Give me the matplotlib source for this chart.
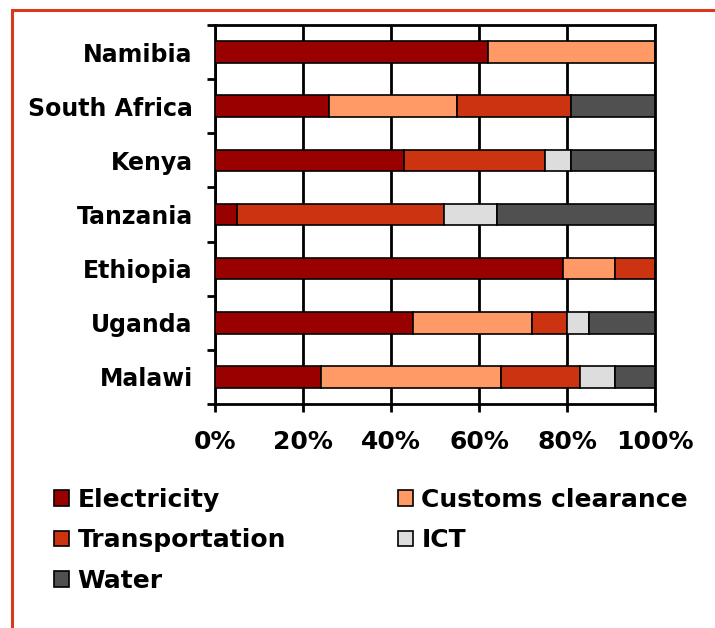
import matplotlib
matplotlib.use("Agg")
import matplotlib.pyplot as plt
from matplotlib.patches import Rectangle, Patch

countries = ["Namibia", "South Africa", "Kenya", "Tanzania", "Ethiopia", "Uganda", "Malawi"]
series_names = ["Electricity", "Customs clearance", "Transportation", "ICT", "Water"]
electricity = [62, 26, 43, 5, 79, 45, 24]
customs = [38, 29, 0, 0, 12, 27, 41]
transportation = [0, 26, 32, 47, 9, 8, 18]
ict = [0, 0, 6, 12, 0, 5, 8]
water = [0, 19, 19, 36, 0, 15, 9]
colors = ["#990000", "#FF9966", "#CC3311", "#DDDDDD", "#505050"]
xticks = [0, 20, 40, 60, 80, 100]
xticklabels = ["0%", "20%", "40%", "60%", "80%", "100%"]

plt.rcParams["font.family"] = ["DejaVu Sans"]
plt.rcParams["font.weight"] = "bold"

fig = plt.figure(figsize=(7.15, 6.28), dpi=100)
W, H = 715, 628
ax = fig.add_axes([215 / W, 1 - 404 / H, (655 - 215) / W, (404 - 25) / H])

data = [electricity, customs, transportation, ict, water]
ypos = list(range(len(countries)))
left = [0] * len(countries)
handles = []
for name, vals, col in zip(series_names, data, colors):
    ax.barh(ypos, vals, left=left, height=0.4, color=col, edgecolor="black",
            linewidth=1.2, zorder=3)
    left = [l + v for l, v in zip(left, vals)]
    handles.append(Patch(facecolor=col, edgecolor="black", linewidth=1.2, label=name))

ax.set_xlim(0, 100)
ax.set_ylim(len(countries) - 0.5, -0.5)
ax.set_xticks(xticks)
ax.set_xticklabels(xticklabels, fontsize=18, fontweight="bold")
ax.set_yticks(ypos)
ax.set_yticklabels(countries, fontsize=17, fontweight="bold")
ax.tick_params(axis="y", length=0, pad=16)
ax.set_yticks([i - 0.5 for i in range(len(countries) + 1)], minor=True)
ax.tick_params(axis="y", which="minor", length=6, width=2, direction="out")
ax.tick_params(axis="x", length=6, width=2, direction="out", pad=13)
ax.grid(axis="x", color="black", linewidth=2, zorder=1)
for s in ax.spines.values():
    s.set_linewidth(2)
    s.set_color("black")
ax.set_axisbelow(True)

order = [0, 2, 4, 1, 3]
leg = fig.legend([handles[i] for i in order], [series_names[i] for i in order],
                 ncol=2, loc="upper left", bbox_to_anchor=(54 / W, 1 - 488 / H),
                 frameon=False, prop={"weight": "bold", "size": 18},
                 handlelength=0.6, handleheight=0.6, handletextpad=0.35,
                 columnspacing=4.45, labelspacing=0.65, borderpad=0, borderaxespad=0)

fig.patches.append(Rectangle((12 / W, -0.1), 1.2, 1 - 10 / H + 0.1,
                             transform=fig.transFigure, fill=False,
                             edgecolor="#D93A1A", linewidth=2.2, zorder=10))

fig.savefig("out.png", dpi=100)
